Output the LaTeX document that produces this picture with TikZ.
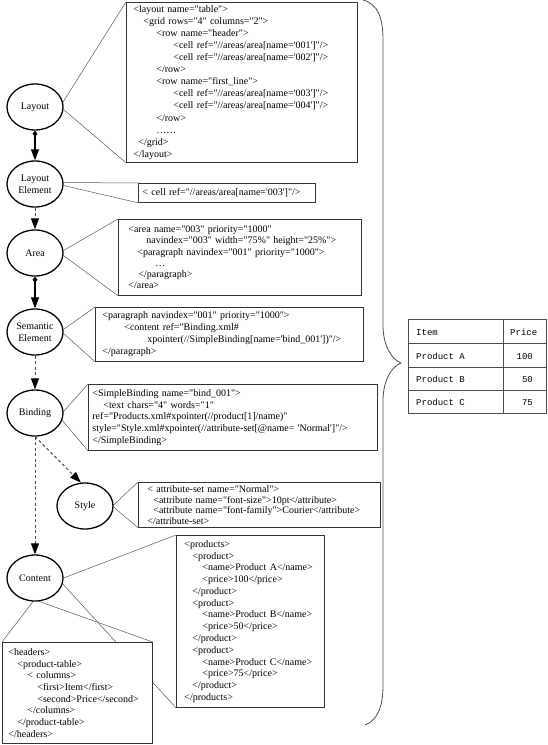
\documentclass[tikz,border=0pt]{standalone}
\usepackage{fontspec}
\setmainfont{Liberation Serif}[Ligatures=TeXOff]
\newfontfamily\tablemono{Liberation Mono}
\usetikzlibrary{arrows.meta,shapes.geometric}
\pgfdeclarelayer{background}
\pgfsetlayers{background,main}
\newcommand{\xmlline}[2]{\hspace*{#1pt}\mbox{#2}}
\begin{document}
\begin{tikzpicture}[x=1pt,y=-1pt,
  concept/.style={ellipse, draw=black, line width=1.3pt, fill=white,
    minimum width=56pt, minimum height=46pt, inner sep=0pt, align=center,
    font=\fontsize{10}{12}\selectfont},
  xmlbox/.style={draw=black!80, line width=0.8pt, fill=white,
    anchor=north west, inner ysep=0pt, align=left},
  callout/.style={draw=black!65, line width=0.5pt},
  tip/.style={-{Triangle[length=11pt,width=8pt,color=black]}},
  flow/.style={draw=black, line width=1.1pt,
    {Diamond[length=6pt,width=5pt,color=black]}-{Triangle[length=11pt,width=8pt,color=black]}},
  dflow/.style={draw=black!70, line width=1pt, dash pattern=on 3pt off 2.5pt, tip},
  cell/.style={font=\tablemono\fontsize{9}{11}\selectfont, inner sep=0pt},
  tablebox/.style={draw=black!70, line width=0.8pt, anchor=north west, inner sep=0pt}
]
\useasboundingbox (0,0) rectangle (548,745);

% concept ellipses
\node[concept] (layout) at (35,107) {Layout};
\node[concept] (le) at (35,184) {Layout\\Element};
\node[concept] (area) at (35,253) {Area};
\node[concept] (sem) at (35,332) {Semantic\\Element};
\node[concept] (bind) at (35,413) {Binding};
\node[concept] (style) at (85,506) {Style};
\node[concept] (content) at (35,578) {Content};

% xml boxes
\node[xmlbox, text width=217pt, inner xsep=7pt, minimum height=160pt,
  font=\fontsize{10}{12.1}\selectfont] (layoutxml) at (126,2) {%
\xmlline{0}{<layout name="table">}\\
\xmlline{10}{<grid rows="4" columns="2">}\\
\xmlline{23}{<row name="header">}\\
\xmlline{40}{<cell ref="//areas/area[name='001']"/>}\\
\xmlline{40}{<cell ref="//areas/area[name='002']"/>}\\
\xmlline{23}{</row>}\\
\xmlline{23}{<row name="first\_line">}\\
\xmlline{40}{<cell ref="//areas/area[name='003']"/>}\\
\xmlline{40}{<cell ref="//areas/area[name='004']"/>}\\
\xmlline{23}{</row>}\\
\xmlline{23}{……}\\
\xmlline{5}{</grid>}\\
\xmlline{0}{</layout>}};

\node[xmlbox, text width=169pt, inner xsep=4pt, minimum height=19pt,
  font=\fontsize{10}{12}\selectfont] (lexml) at (138,183) {%
\xmlline{0}{< cell ref="//areas/area[name='003']"/>}};

\node[xmlbox, text width=223pt, inner xsep=10pt, minimum height=76pt,
  font=\fontsize{10}{11.2}\selectfont] (areaxml) at (118,219) {%
\xmlline{0}{<area name="003" priority="1000"}\\
\xmlline{18}{navindex="003" width="75\%" height="25\%">}\\
\xmlline{9}{<paragraph navindex="001" priority="1000">}\\
\xmlline{27}{…}\\
\xmlline{10}{</paragraph>}\\
\xmlline{0}{</area>}};

\node[xmlbox, text width=254pt, inner xsep=7pt, minimum height=54pt,
  font=\fontsize{10}{12}\selectfont] (semxml) at (95,307) {%
\xmlline{0}{<paragraph navindex="001" priority="1000">}\\
\xmlline{22}{<content ref="Binding.xml\#}\\
\xmlline{45}{xpointer(//SimpleBinding[name='bind\_001'])"/>}\\
\xmlline{0}{</paragraph>}};

\node[xmlbox, text width=281pt, inner xsep=4pt, minimum height=66pt,
  font=\fontsize{10}{11.75}\selectfont] (bindxml) at (88,384) {%
\xmlline{0}{<SimpleBinding name="bind\_001">}\\
\xmlline{11}{<text chars="4" words="1"}\\
\xmlline{0}{ref="Products.xml\#xpointer(//product[1]/name)"}\\
\xmlline{0}{style="Style.xml\#xpointer(//attribute-set[@name= 'Normal']"/>}\\
\xmlline{0}{</SimpleBinding>}};

\node[xmlbox, text width=224pt, inner xsep=9pt, minimum height=45pt,
  font=\fontsize{10}{10.5}\selectfont] (stylexml) at (138,482) {%
\xmlline{0}{< attribute-set name="Normal">}\\
\xmlline{6}{<attribute name="font-size">10pt</attribute>}\\
\xmlline{6}{<attribute name="font-family">Courier</attribute>}\\
\xmlline{0}{</attribute-set>}};

\node[xmlbox, text width=132pt, inner xsep=8pt, minimum height=172pt,
  font=\fontsize{10}{11.77}\selectfont] (prodxml) at (176,535) {%
\xmlline{0}{<products>}\\
\xmlline{8}{<product>}\\
\xmlline{18}{<name>Product A</name>}\\
\xmlline{18}{<price>100</price>}\\
\xmlline{8}{</product>}\\
\xmlline{8}{<product>}\\
\xmlline{18}{<name>Product B</name>}\\
\xmlline{18}{<price>50</price>}\\
\xmlline{8}{</product>}\\
\xmlline{8}{<product>}\\
\xmlline{18}{<name>Product C</name>}\\
\xmlline{18}{<price>75</price>}\\
\xmlline{8}{</product>}\\
\xmlline{0}{</products>}};

\node[xmlbox, text width=138pt, inner xsep=6pt, minimum height=101pt,
  font=\fontsize{10}{11.7}\selectfont] (headxml) at (2,642) {%
\xmlline{0}{<headers>}\\
\xmlline{9}{<product-table>}\\
\xmlline{19}{< columns>}\\
\xmlline{29}{<first>Item</first>}\\
\xmlline{29}{<second>Price</second>}\\
\xmlline{19}{</columns>}\\
\xmlline{9}{</product-table>}\\
\xmlline{0}{</headers>}};

% callout lines (behind the boxes)
\begin{pgfonlayer}{background}
\draw[callout] (layout.10) -- (layoutxml.north west);
\draw[callout] (layout.-5) -- (layoutxml.south west);
\draw[callout] (le.3) -- (lexml.north west);
\draw[callout] (le.-3) -- (lexml.south west);
\draw[callout] (area.5) -- (areaxml.north west);
\draw[callout] (area.-5) -- (areaxml.south west);
\draw[callout] (sem.5) -- (semxml.north west);
\draw[callout] (sem.-3) -- (semxml.south west);
\draw[callout] (bind.3) -- (bindxml.north west);
\draw[callout] (bind.-15) -- (bindxml.south west);
\draw[callout] (style.2) -- (stylexml.north west);
\draw[callout] (style.-2) -- (stylexml.south west);
\draw[callout] (content.east) -- (prodxml.north west);
\draw[callout] (content.-12) -- (prodxml.south west);
\draw[callout] (content.-95) -- (headxml.north west);
\draw[callout] (content.-80) -- (headxml.north east);
\end{pgfonlayer}

% flow connectors
\draw[flow] (layout) -- (le);
\draw[dflow] (le) -- (area);
\draw[flow] (area) -- (sem);
\draw[dflow] (sem) -- (bind);
\draw[dflow] (bind.south) -- (style.100);
\draw[dflow] (bind) -- (content);

% brace
\coordinate (bracetip) at (401,363);
\draw[black!70, line width=0.8pt] (363,0) .. controls (378,4) and (383,18) .. (383,40)
  -- (383,325) .. controls (383,345) and (391,359) .. (bracetip)
  .. controls (391,367) and (383,381) .. (383,401)
  -- (383,685) .. controls (383,706) and (378,720) .. (365,725);

% rendered table
\node[tablebox, minimum width=138pt, minimum height=94pt] (table) at (408,319) {};
\draw[black!70, line width=0.8pt] (503,319) -- (503,413);
\draw[black!70, line width=0.8pt] (408,343) -- (546,343);
\draw[black!70, line width=0.8pt] (408,367) -- (546,367);
\draw[black!70, line width=0.8pt] (408,390) -- (546,390);
\node[cell, anchor=base west] (item) at (416,335) {Item};
\node[cell, anchor=base west] (price) at (510,335) {Price};
\node[cell, anchor=base west] (proda) at (416,359) {Product A};
\node[cell, anchor=base east] (pricea) at (533,359) {100};
\node[cell, anchor=base west] (prodb) at (416,382.5) {Product B};
\node[cell, anchor=base east] (priceb) at (533,382.5) {50};
\node[cell, anchor=base west] (prodc) at (416,405.5) {Product C};
\node[cell, anchor=base east] (pricec) at (533,405.5) {75};
\end{tikzpicture}
\end{document}
